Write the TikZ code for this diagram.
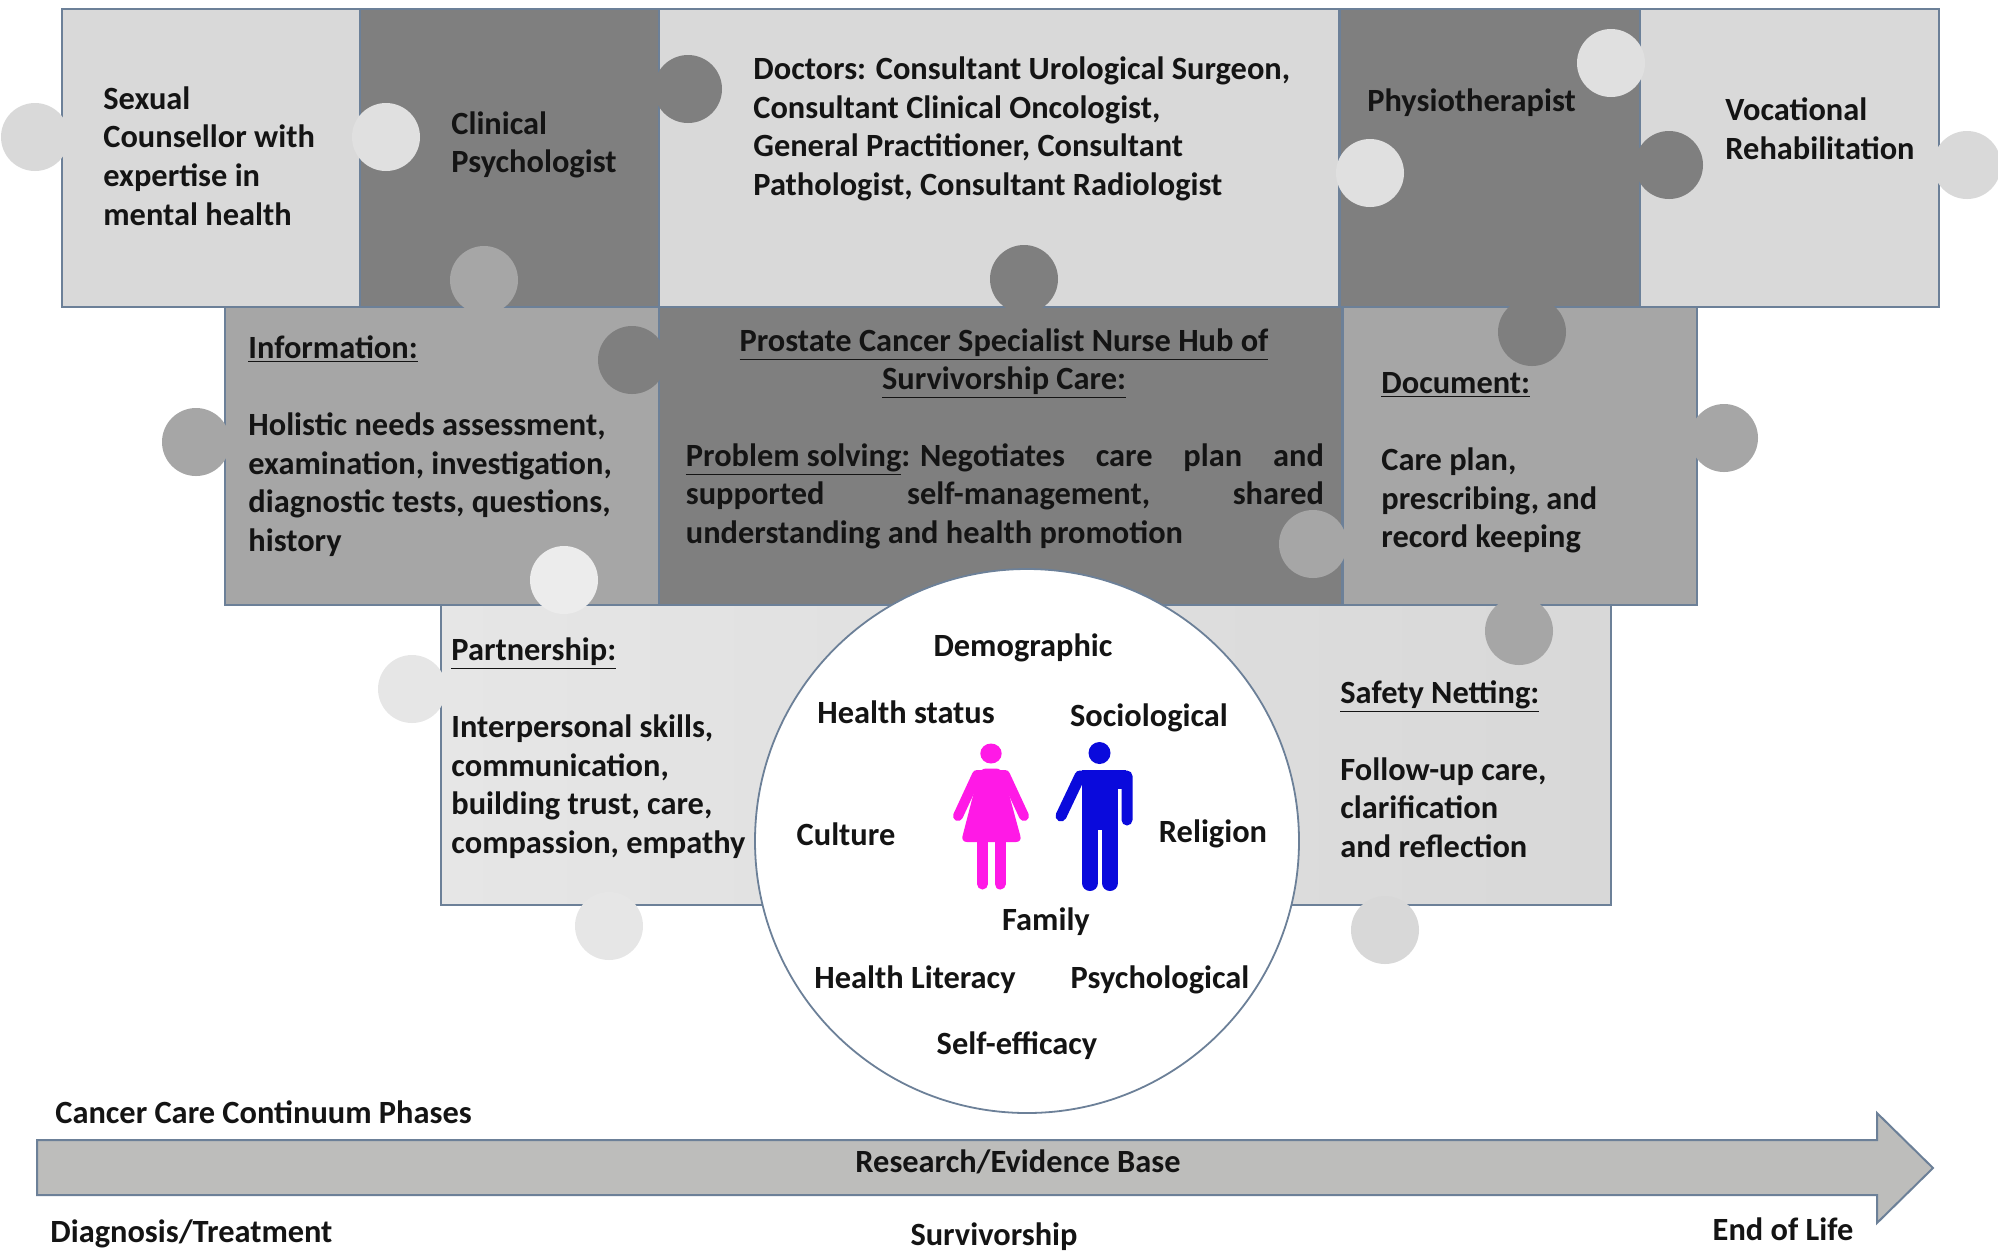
\documentclass[tikz,border=0pt]{standalone}
\usepackage{fontspec}
\setmainfont{Carlito}[BoldFont=Carlito Bold]
\definecolor{edgeblue}{HTML}{6C8098}
\definecolor{lightp}{HTML}{D9D9D9}
\definecolor{lighttab}{HTML}{E0E0E0}
\definecolor{darkp}{HTML}{7F7F7F}
\definecolor{midp}{HTML}{A6A6A6}
\definecolor{palest}{HTML}{E6E6E6}
\definecolor{palertab}{HTML}{ECECEC}
\definecolor{safep}{HTML}{D8D8D8}
\definecolor{arrowfill}{HTML}{BDBDBB}
\definecolor{inkc}{HTML}{141414}
\definecolor{womanc}{HTML}{FF19E6}
\definecolor{manc}{HTML}{0A0ADC}
\tikzset{
  x=0.5pt,y=-0.5pt,
  piece/.style n args={3}{draw=edgeblue,line width=1pt,fill=#3,anchor=north west,inner sep=0,
     minimum width=#1*0.5pt,minimum height=#2*0.5pt},
  tab/.style={circle,draw=none,fill=#1,minimum size=34pt,inner sep=0},
  lab/.style={font=\fontsize{16.2}{19.3}\selectfont\bfseries,text=inkc,inner sep=0,align=left,anchor=west},
  clab/.style={font=\fontsize{16.2}{19.3}\selectfont\bfseries,text=inkc,inner sep=0,align=center,anchor=center},
}
\begin{document}
\begin{tikzpicture}
\useasboundingbox (0,0) rectangle (1998,1250);
% top row
\node[piece={298}{298}{lightp}] (sexual) at (61,8) {};
\node[piece={299}{298}{darkp}] (clinical) at (359,8) {};
\node[piece={680}{298}{lightp}] (doctors) at (658,8) {};
\node[piece={300}{298}{darkp}] (physio) at (1339,8) {};
\node[piece={299}{298}{lightp}] (voc) at (1639,8) {};
% middle row
\node[piece={434}{298}{midp}] (info) at (224,306) {};
\node[piece={683}{298}{darkp}] (hub) at (658,306) {};
\node[piece={354}{298}{midp}] (document) at (1342,306) {};
% bottom row
\node[piece={1170}{300}{palest},left color=palest,right color=safep] (bottom) at (440,604) {};
% tabs
\node[tab=lightp] (t1) at (35,137) {};
\node[tab=lighttab] (t2) at (386,137) {};
\node[tab=midp] (t3) at (484,280) {};
\node[tab=darkp] (t4) at (688,89) {};
\node[tab=darkp] (t5) at (632,360) {};
\node[tab=midp] (t6) at (196,442) {};
\node[tab=palertab] (t7) at (564,580) {};
\node[tab=lighttab] (t8) at (1370,173) {};
\node[tab=lighttab] (t9) at (1611,63) {};
\node[tab=darkp] (t10) at (1669,165) {};
\node[tab=lightp] (t11) at (1967,165) {};
\node[tab=darkp] (t12) at (1024,279) {};
\node[tab=darkp] (t13) at (1532,332) {};
\node[tab=midp] (t14) at (1724,438) {};
\node[tab=midp] (t15) at (1313,544) {};
\node[tab=midp] (t16) at (1519,631) {};
\node[tab=palest] (t17) at (412,689) {};
\node[tab=palest] (t18) at (609,926) {};
\node[tab=safep] (t19) at (1385,930) {};
% circle
\node[circle,draw=edgeblue,line width=0.9pt,fill=white,minimum size=272pt,inner sep=0] (core) at (1027,841) {};
% arrow
\path[draw=edgeblue,line width=1pt,fill=arrowfill] (37,1140) -- (1877,1140) -- (1877,1113) -- (1933,1168) -- (1877,1223) -- (1877,1195) -- (37,1195) -- cycle;
% top row text
\node[lab] (tsexual) at (103,156) {Sexual\\Counsellor with\\expertise in\\mental health};
\node[lab] (tclinical) at (451,145) {Clinical\\Psychologist};
\node[lab] (tdoctors) at (753,129) {Doctors: Consultant Urological Surgeon,\\Consultant Clinical Oncologist,\\General Practitioner, Consultant\\Pathologist, Consultant Radiologist};
\node[lab] (tphysio) at (1367,103) {Physiotherapist};
\node[lab] (tvoc) at (1725,129) {Vocational\\Rehabilitation};
% middle row text
\node[lab] (tinfo) at (248,446) {\underline{Information:}\\\mbox{}\\Holistic needs assessment,\\examination, investigation,\\diagnostic tests, questions,\\history};
\node[clab] (thubtitle) at (1004,363.5) {\underline{Prostate Cancer Specialist Nurse Hub of}\\\underline{Survivorship Care:}};
\node[lab] (tproblem) at (685.5,496) {\hbox to 319pt{\underline{Problem solving}: Negotiates\hfill care\hfill plan\hfill and}\\\hbox to 319pt{supported\hfill self-management,\hfill shared}\\understanding and health promotion};
\node[lab] (tdocument) at (1381,463) {\underline{Document:}\\\mbox{}\\Care plan,\\prescribing, and\\record keeping};
% bottom row text
\node[lab] (tpartner) at (451,748) {\underline{Partnership:}\\\mbox{}\\Interpersonal skills,\\communication,\\building trust, care,\\compassion, empathy};
\node[lab] (tsafety) at (1340,769) {\underline{Safety Netting:}\\\mbox{}\\Follow-up care,\\clarification\\and reflection};
% circle text
\node[clab] (c1) at (1023,648) {Demographic};
\node[clab] (c2) at (906,712) {Health status};
\node[clab] (c3) at (1149,718) {Sociological};
\node[clab] (c4) at (846,834) {Culture};
\node[clab] (c5) at (1213,834) {Religion};
\node[clab] (c6) at (1046,922) {Family};
\node[clab] (c7) at (915,980) {Health Literacy};
\node[clab] (c8) at (1160,980) {Psychological};
\node[clab] (c9) at (1017,1046) {Self-efficacy};
% continuum text
\node[lab] (phases) at (55,1112) {Cancer Care Continuum Phases};
\node[clab] (research) at (1018,1162) {Research/Evidence Base};
\node[lab] (diag) at (50,1234) {Diagnosis/Treatment};
\node[clab] (surv) at (994,1237) {Survivorship};
\node[clab] (eol) at (1783,1229) {End of Life};
% woman
\fill[womanc] (991,753.5) ellipse [x radius=10.7,y radius=10];
\fill[womanc,rounded corners=3pt] (980,768.5) -- (1002,768.5) -- (1022,842) -- (961,842) -- cycle;
\draw[womanc,line width=5pt,line cap=round,line join=round] (958,816) -- (977,775) -- (1005,775) -- (1024,816);
\draw[womanc,line width=5.5pt,line cap=round] (982.5,842) -- (982.5,884);
\draw[womanc,line width=5.5pt,line cap=round] (1000,842) -- (1000,884);
% man
\fill[manc] (1099.5,753) ellipse [x radius=11,y radius=11];
\draw[manc,line width=5.5pt,line cap=round,line join=round] (1061,816) -- (1080,776) -- (1127,776) -- (1127,820);
\fill[manc] (1082,770) rectangle (1126,789);
\fill[manc] (1082,785) rectangle (1118,830);
\draw[manc,line width=8pt,line cap=round] (1090,825) -- (1090,883);
\draw[manc,line width=8pt,line cap=round] (1110,825) -- (1110,883);
\end{tikzpicture}
\end{document}
